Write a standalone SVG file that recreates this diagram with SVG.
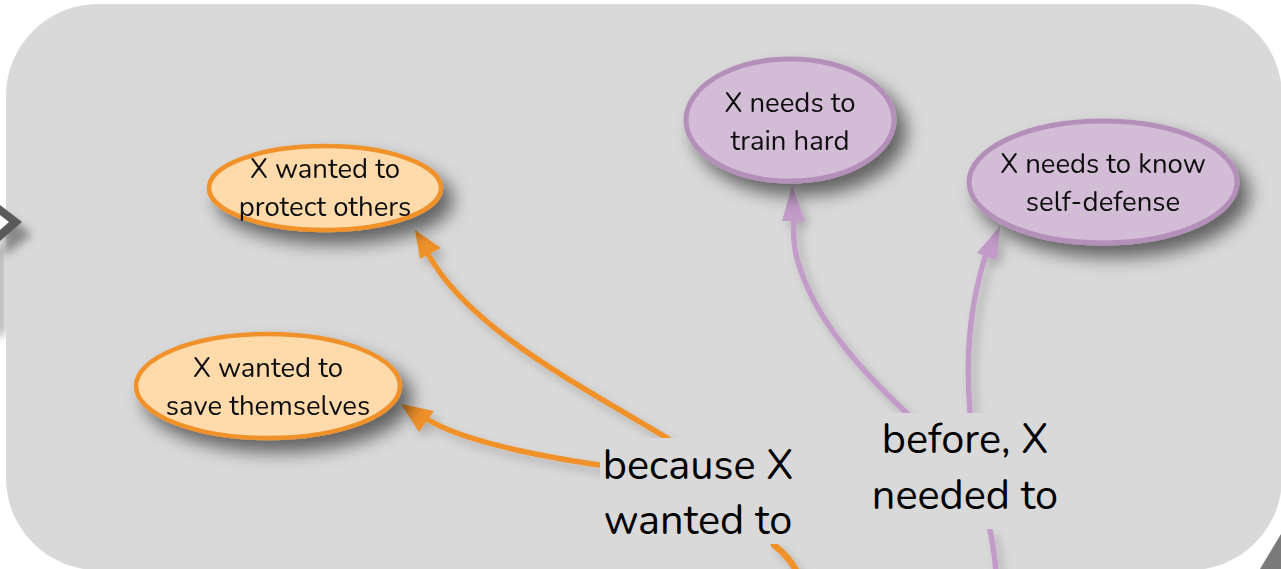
<svg xmlns="http://www.w3.org/2000/svg" width="1281" height="569" viewBox="0 0 1281 569">
  <defs>
    <filter id="shadow" x="-30%" y="-30%" width="170%" height="190%">
      <feDropShadow dx="10" dy="12" stdDeviation="9" flood-color="#000" flood-opacity="0.55"/>
    </filter>
    <filter id="edgeShadow" x="-20%" y="-20%" width="150%" height="150%">
      <feDropShadow dx="5" dy="6" stdDeviation="5" flood-color="#000" flood-opacity="0.2"/>
    </filter>
    <filter id="soft" x="-100%" y="-50%" width="300%" height="200%">
      <feGaussianBlur stdDeviation="5"/>
    </filter>
    <style>
      .node-text { font-family: "Nunito", "Lato", "Open Sans", sans-serif; font-size: 27.5px; fill: #111; text-anchor: middle; }
      .edge-text { font-family: "Nunito", "Lato", "Open Sans", sans-serif; font-size: 41.5px; fill: #000; text-anchor: middle; }
      .want { fill: #FFDAAA; stroke: #F0912A; stroke-width: 4.5; }
      .need { fill: #D3BCD6; stroke: #B48FBA; stroke-width: 5; }
      .edge-want { fill: none; stroke: #F0912A; stroke-width: 5.5; stroke-linecap: round; }
      .edge-need { fill: none; stroke: #C39BC8; stroke-width: 5.5; stroke-linecap: round; }
      .head-want { fill: #F0912A; }
      .head-need { fill: #C39BC8; }
      .label-bg { fill: #D9D9D9; }
    </style>
  </defs>

  <!-- page background -->
  <rect x="0" y="0" width="1281" height="569" fill="#ffffff"/>

  <!-- neighbouring frame pieces at the edges -->
  <rect x="-4" y="245" width="8" height="90" fill="#9a9a9a" filter="url(#soft)"/>
  <polygon points="1260,569 1281,534 1281,569" fill="#7a7a7a"/>

  <!-- panel -->
  <rect x="6" y="4" width="1276" height="566" rx="92" ry="92" fill="#D9D9D9"/>

  <!-- incoming arrowhead on the left edge -->
  <path d="M 4 214 L 32 234 L 4 256 Z" fill="#444" opacity="0.55" filter="url(#soft)"/>
  <polygon points="0,205 22,222 0,241" fill="#5a5a5a"/>
  <polygon points="0,215 9,222 0,230" fill="#ffffff"/>

  <!-- connectors -->
  <g id="connectors" filter="url(#edgeShadow)">
    <path class="edge-want" d="M 670 440 C 580 385, 470 330, 428 254"/>
    <polygon class="head-want" points="415,230 420,259 441,248"/>
    <path class="edge-want" d="M 606 466 C 530 455, 460 440, 425 418"/>
    <polygon class="head-want" points="401,404 419,432 434,411"/>
    <path class="edge-want" d="M 774 545 C 784 553, 792 562, 797 572" style="stroke-width:6.5"/>

    <path class="edge-need" d="M 912 418 C 860 370, 815 320, 798 262 C 793 245, 793 232, 794 218"/>
    <polygon class="head-need" points="792,186 782,221 805,221"/>
    <path class="edge-need" d="M 970 412 C 966 360, 968 310, 986 254"/>
    <polygon class="head-need" points="1000,226 977,253 997,260"/>
    <path class="edge-need" d="M 990 530 C 993 545, 995 558, 996 572"/>
  </g>

  <!-- connector labels -->
  <g id="label-because">
    <rect class="label-bg" x="600" y="438" width="198" height="106"/>
    <text class="edge-text" x="698" y="479">because X</text>
    <text class="edge-text" x="698" y="534">wanted to</text>
  </g>
  <g id="label-before">
    <rect class="label-bg" x="869" y="413" width="192" height="116"/>
    <text class="edge-text" x="965" y="453">before, X</text>
    <text class="edge-text" x="965" y="509">needed to</text>
  </g>

  <!-- nodes -->
  <g id="node-protect" filter="url(#shadow)">
    <ellipse class="want" cx="325" cy="188" rx="116" ry="42"/>
    <text class="node-text" x="325" y="178">X wanted to</text>
    <text class="node-text" x="325" y="216">protect others</text>
  </g>
  <g id="node-save" filter="url(#shadow)">
    <ellipse class="want" cx="268" cy="386" rx="132" ry="52"/>
    <text class="node-text" x="268" y="377">X wanted to</text>
    <text class="node-text" x="268" y="415">save themselves</text>
  </g>
  <g id="node-train" filter="url(#shadow)">
    <ellipse class="need" cx="790" cy="120" rx="104" ry="61"/>
    <text class="node-text" x="790" y="112">X needs to</text>
    <text class="node-text" x="790" y="150">train hard</text>
  </g>
  <g id="node-selfdefense" filter="url(#shadow)">
    <ellipse class="need" cx="1103" cy="182" rx="134" ry="61"/>
    <text class="node-text" x="1103" y="173">X needs to know</text>
    <text class="node-text" x="1103" y="211">self-defense</text>
  </g>
</svg>
